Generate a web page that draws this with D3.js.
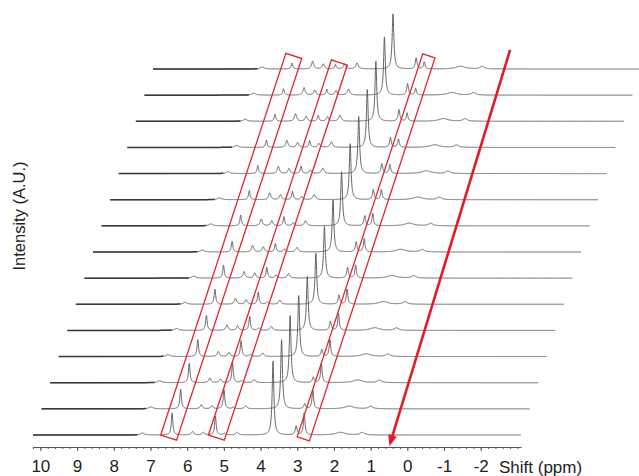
<!doctype html>
<html lang="en">
  <head>
    <meta charset="UTF-8" />
    <title>Stacked 1H NMR spectra</title>
    <script src="https://d3js.org/d3.v7.min.js"></script>
    <style>
      body {
        margin: 0;
        background: #fff;
      }
      svg {
        display: block;
        font-family: "Liberation Sans", Arial, sans-serif;
      }
      .spec {
        fill: none;
        stroke: #555;
        stroke-width: 0.9;
      }
      .spec-thick {
        fill: none;
        stroke: #3a3a3a;
        stroke-width: 1.5;
      }
      .axis path,
      .axis line {
        stroke: #555;
      }
      .axis text {
        font-size: 17px;
        fill: #222;
      }
      .box {
        fill: none;
        stroke: #e0262b;
        stroke-width: 1.3;
      }
    </style>
  </head>
  <body>
    <svg width="639" height="476"></svg>

    <script>
      // spectra, bottom (0) to top (14)
      const spectrumIds = d3.range(15);

      // peak positions (ppm) and half widths (ppm)
      const peakPpm = [7.22, 6.41, 5.85, 5.56, 5.23, 4.98, 4.64, 3.66, 3.03, 2.81, 1.82, 1.23];
      const peakHalfWidth = [0.06, 0.025, 0.035, 0.035, 0.025, 0.035, 0.04, 0.028, 0.028, 0.025, 0.15, 0.07];

      // peak heights per spectrum (A.U.)
      const h722 = [2, 2, 2, 2, 2, 2, 2, 2, 2, 2, 2, 2, 2, 2, 2];
      const h641 = [22, 19.6, 19.4, 17, 15, 15, 13, 10.7, 10.7, 9, 8, 7.3, 7, 6.3, 6];
      const h585 = [3.5, 4, 4.5, 5, 5.5, 6, 6.5, 6.5, 6.7, 6.7, 7, 7, 7.5, 7.5, 7.7];
      const h556 = [2.7, 3, 3.5, 4, 4.5, 4.5, 5, 5, 5, 5, 5, 5, 5, 5, 5];
      const h523 = [19, 19.6, 19.4, 16, 14, 12.3, 10.7, 8.3, 9, 8.3, 7.3, 6.7, 5.7, 5.7, 4.3];
      const h498 = [1.5, 1.5, 2, 2, 2.5, 2.5, 3, 3, 3, 3, 3.5, 4, 4.5, 4.5, 5];
      const h464 = [2.7, 3, 3, 3.5, 4, 4, 4.5, 4.5, 5, 5, 5.5, 5.5, 6, 6, 6];
      const h366 = [74, 69, 67, 61, 54, 51, 51.5, 52, 54, 56, 57, 58, 60, 58, 55];
      const h303 = [9, 5, 5.5, 7, 9, 9, 10.5, 10, 10, 10, 10, 10, 11.5, 11.5, 11];
      const h281 = [22, 19.3, 19.3, 16.7, 16.7, 15, 13, 13.3, 12.3, 10, 9, 8.3, 8.3, 6.7, 7];
      const h182 = [2.7, 2.7, 2.7, 2.7, 2.7, 2.7, 2.7, 2.7, 2.7, 2.7, 2.7, 2.7, 2.7, 2.7, 2.7];
      const h123 = [2.5, 2.5, 2.5, 2.5, 2.5, 2.5, 2.5, 2.5, 2.5, 2.5, 2.5, 2.5, 2.5, 2.5, 2.5];
      const peakHeights = [h722, h641, h585, h556, h523, h498, h464, h366, h303, h281, h182, h123];

      // axis ticks
      const majorTicks = [10, 9, 8, 7, 6, 5, 4, 3, 2, 1, 0, -1, -2];
      const minorTicks = d3.range(51, -16, -1).map((d) => d / 5);

      // highlighted peak columns: centre ppm, width ppm, spectrum range
      const boxCenter = [6.48, 5.18, 2.8];
      const boxWidth = [0.48, 0.48, 0.37];
      const boxFrom = [-0.1, -0.1, -0.15];
      const boxTo = [14.5, 14.25, 14.5];

      // trend arrow: from (ppm, spectrum) down to ppm on the axis
      const arrowStart = [0.64, 14.73];
      const arrowEndPpm = 0.49;

      const svg = d3.select("svg");

      const x = d3.scaleLinear().domain([10.2, -3.1]).range([33, 521.1]);
      const base = d3.scaleLinear().domain([0, 14]).range([435, 69]);
      const skew = d3.scaleLinear().domain([0, 14]).range([0, 120]);
      const inten = d3.scaleLinear().domain([0, 100]).range([0, 100]);
      const axisY = 447;

      const grid = d3.range(10.2, -3.1, -0.004);

      function intensityAt(i, p) {
        let v = 0;
        peakPpm.forEach((c, k) => {
          const w = peakHalfWidth[k];
          v += (peakHeights[k][i] * w * w) / ((p - c) * (p - c) + w * w);
        });
        return v;
      }

      const line = d3
        .line()
        .x((d) => x(d.p) + skew(d.i))
        .y((d) => base(d.i) - inten(d.v));

      spectrumIds.forEach((i) => {
        const pts = grid.map((p) => ({ p, i, v: intensityAt(i, p) }));
        svg.append("path").attr("class", "spec").attr("d", line(pts));
        svg
          .append("path")
          .attr("class", "spec-thick")
          .attr("d", line(pts.filter((d) => d.p >= 7.35)));
      });

      // red boxes, rotated along the spectrum skew
      const toScreen = (p, i) => [x(p) + skew(i), base(i)];
      boxCenter.forEach((c, k) => {
        const a = toScreen(c, boxFrom[k]);
        const b = toScreen(c, boxTo[k]);
        const dx = b[0] - a[0],
          dy = b[1] - a[1];
        const len = Math.hypot(dx, dy);
        const ux = dx / len,
          uy = dy / len;
        const nx = -uy,
          ny = ux;
        const half = ((x(0) - x(boxWidth[k])) / 2) * Math.abs(nx);
        const pts = [
          [a[0] - nx * half, a[1] - ny * half],
          [b[0] - nx * half, b[1] - ny * half],
          [b[0] + nx * half, b[1] + ny * half],
          [a[0] + nx * half, a[1] + ny * half],
        ];
        svg
          .append("polygon")
          .attr("class", "box")
          .attr("points", pts.map((q) => q.join(",")).join(" "));
      });

      // axis
      svg
        .append("g")
        .attr("class", "axis")
        .attr("transform", `translate(0,${axisY})`)
        .call(d3.axisBottom(x).tickValues(minorTicks).tickSize(2).tickSizeOuter(0).tickFormat(""));
      svg
        .append("g")
        .attr("class", "axis")
        .attr("transform", `translate(0,${axisY})`)
        .call(
          d3
            .axisBottom(x)
            .tickValues(majorTicks)
            .tickSize(4)
            .tickSizeOuter(0)
            .tickPadding(9)
            .tickFormat((d) => String(d)),
        )
        .call((g) => g.select(".domain").remove())
        .selectAll("text")
        .attr("font-family", null)
        .attr("font-size", null);

      svg
        .append("text")
        .attr("x", 499)
        .attr("y", 473)
        .attr("font-size", 17)
        .attr("fill", "#222")
        .text("Shift (ppm)");

      svg
        .append("text")
        .attr("transform", "translate(19,216) rotate(-90)")
        .attr("text-anchor", "middle")
        .attr("dominant-baseline", "central")
        .attr("font-size", 16.5)
        .attr("fill", "#222")
        .text("Intensity (A.U.)");

      // arrow
      const s = toScreen(arrowStart[0], arrowStart[1]);
      const t = [x(arrowEndPpm), axisY - 1];
      const ax = t[0] - s[0],
        ay = t[1] - s[1];
      const al = Math.hypot(ax, ay);
      const ux = ax / al,
        uy = ay / al;
      const headLen = 11,
        headHalf = 4.5;
      const hb = [t[0] - ux * headLen, t[1] - uy * headLen];
      svg
        .append("line")
        .attr("x1", s[0])
        .attr("y1", s[1])
        .attr("x2", hb[0] + ux * 2)
        .attr("y2", hb[1] + uy * 2)
        .attr("stroke", "#e31b23")
        .attr("stroke-width", 2.6);
      svg
        .append("polygon")
        .attr(
          "points",
          [
            t,
            [hb[0] - uy * headHalf, hb[1] + ux * headHalf],
            [hb[0] + uy * headHalf, hb[1] - ux * headHalf],
          ]
            .map((q) => q.join(","))
            .join(" "),
        )
        .attr("fill", "#e31b23");
    </script>
  </body>
</html>
